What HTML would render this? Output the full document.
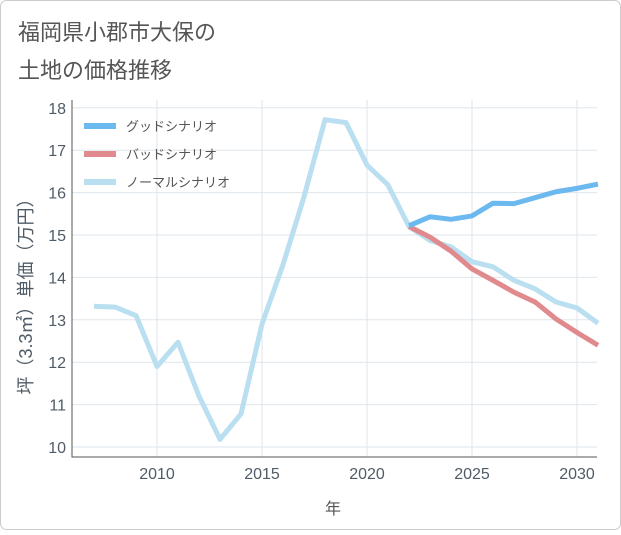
<!DOCTYPE html>
<html><head><meta charset="utf-8"><style>
body{margin:0;background:#fff}
#c{position:relative;width:621px;height:530px;font-family:"Liberation Sans","Noto Sans CJK JP",sans-serif}
</style></head><body>
<div id="c">
<svg id="s" width="621" height="530">
<rect x="0.5" y="0.5" width="620" height="529" rx="6" fill="#fff" stroke="#ccc"/>
<text x="18" y="40" font-size="22" fill="#555">福岡県小郡市大保の</text>
<text x="18" y="78" font-size="22" fill="#555">土地の価格推移</text>
<text x="333" y="514" font-size="16" fill="#555" text-anchor="middle">年</text>
<text transform="translate(32,292) rotate(-90)" font-size="18" fill="#4f5b66" text-anchor="middle">坪（3.3㎡）単価（万円）</text>
</svg></div>
<script>
const years=[2007,2008,2009,2010,2011,2012,2013,2014,2015,2016,2017,2018,2019,2020,2021,2022,2023,2024,2025,2026,2027,2028,2029,2030,2031];
const normal=[13.32,13.3,13.1,11.9,12.47,11.2,10.18,10.78,12.9,14.3,15.9,17.72,17.65,16.65,16.18,15.2,14.87,14.72,14.37,14.25,13.93,13.73,13.42,13.28,12.92];
const fyears=[2022,2023,2024,2025,2026,2027,2028,2029,2030,2031];
const good=[15.22,15.43,15.37,15.45,15.75,15.74,15.88,16.02,16.1,16.2];
const bad=[15.2,14.95,14.62,14.2,13.93,13.65,13.42,13.02,12.7,12.4];
const xTicks=[2010,2015,2020,2025,2030];
const yTicks=[10,11,12,13,14,15,16,17,18];
const legendLabels=["グッドシナリオ","バッドシナリオ","ノーマルシナリオ"];
const colors=["#6cb9ef","#e08a8e","#b9dff0"];
const L=72,R=597,T=100,B=457;
const x=v=>157+(v-2010)*21;
const y=v=>447-(v-10)*42.4;
const s=document.getElementById('s');
const NS='http://www.w3.org/2000/svg';
function mk(t,a,p){const e=document.createElementNS(NS,t);for(const k in a)e.setAttribute(k,a[k]);(p||s).appendChild(e);return e;}
yTicks.forEach(v=>{const l=mk('line',{x1:L,x2:R,y1:y(v),y2:y(v),stroke:'#dde5ec'});


const t=mk('text',{x:L-6,y:y(v)+6,'font-size':16,fill:'#4f5b66','text-anchor':'end'});t.textContent=v;

});
xTicks.forEach(v=>{const l=mk('line',{x1:x(v),x2:x(v),y1:T,y2:B,stroke:'#dde5ec'});


const t=mk('text',{x:x(v),y:B+22,'font-size':16,fill:'#4f5b66','text-anchor':'middle'});t.textContent=v;

});
const ax=mk('path',{d:`M${L} ${T}V${B}H${R}`,fill:'none',stroke:'#555','stroke-width':1});


function line(xs,vs,c,n){const p=mk('polyline',{points:xs.map((v,i)=>x(v)+','+y(vs[i])).join(' '),fill:'none',stroke:c,'stroke-width':5,'stroke-linejoin':'round'});

}
line(years,normal,colors[2],'normal-line');
line(fyears,bad,colors[1],'bad-line');
line(fyears,good,colors[0],'good-line');
legendLabels.forEach((lb,i)=>{const yy=126+i*28;
const g=mk('g',{});


mk('line',{x1:84,x2:116,y1:yy,y2:yy,stroke:colors[i],'stroke-width':6},g);
const t=mk('text',{x:126,y:yy+5,'font-size':13,fill:'#555'},g);t.textContent=lb;});
</script></body></html>
